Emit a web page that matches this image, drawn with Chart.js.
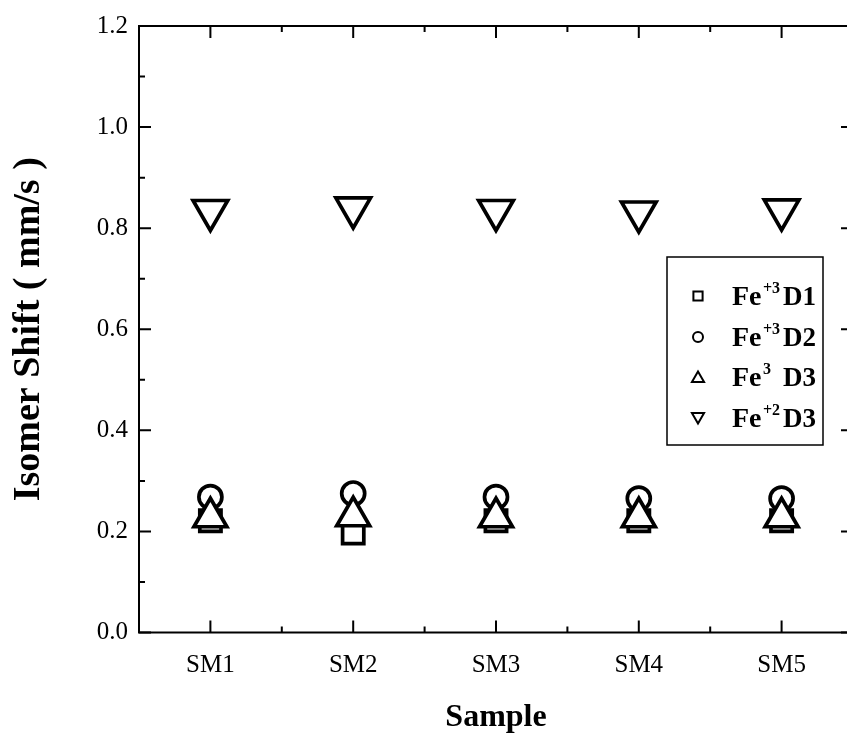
<!DOCTYPE html>
<html>
<head>
<meta charset="utf-8">
<script src="https://cdn.jsdelivr.net/npm/chart.js@4.4.1/dist/chart.umd.min.js"></script>
<style>
html,body{margin:0;padding:0;overflow:hidden;background:#fff;}
#wrap{width:860px;height:738px;overflow:hidden;}
#c{width:860px;height:738px;display:block;}
</style>
</head>
<body>
<div id="wrap"><canvas id="c" width="860" height="738"></canvas></div>
<script>
// ---- data ----
const categories = ['SM1', 'SM2', 'SM3', 'SM4', 'SM5'];
const fe3D1 = [0.221, 0.197, 0.221, 0.221, 0.221];
const fe3D2 = [0.268, 0.275, 0.268, 0.265, 0.265];
const fe3D3 = [0.228, 0.230, 0.228, 0.228, 0.228];
const fe2D3 = [0.835, 0.840, 0.835, 0.832, 0.836];
const yTickValues = [0, 0.2, 0.4, 0.6, 0.8, 1.0, 1.2];
const legendBase = ['Fe', 'Fe', 'Fe', 'Fe'];
const legendSup = ['+3', '+3', '3', '+2'];
const legendSuffix = ['D1', 'D2', 'D3', 'D3'];

const SERIF = '"Liberation Serif", "Times New Roman", serif';

function ds(data, style, radius, rotation, order) {
  return {
    data: data, showLine: false, pointStyle: style, pointRadius: radius,
    pointHoverRadius: radius, pointRotation: rotation || 0,
    pointBorderWidth: 3.7, pointBorderColor: '#000', pointBackgroundColor: '#fff',
    borderColor: '#000', backgroundColor: '#fff', order: order, clip: false
  };
}

const frame = {
  id: 'frame',
  beforeDatasetsDraw(chart) {
    const ctx = chart.ctx, a = chart.chartArea;
    const xs = chart.scales.x, ys = chart.scales.y;
    ctx.save();
    ctx.strokeStyle = '#000';
    ctx.lineWidth = 2;
    ctx.beginPath();
    ctx.rect(a.left, a.top, a.right - a.left, a.bottom - a.top);
    ctx.stroke();
    ctx.beginPath();
    for (let i = 0; i < yTickValues.length; i++) {
      const y = ys.getPixelForValue(yTickValues[i]);
      ctx.moveTo(a.left, y); ctx.lineTo(a.left + 12, y);
      ctx.moveTo(a.right, y); ctx.lineTo(a.right - 12, y);
      if (i < yTickValues.length - 1) {
        const ym = ys.getPixelForValue((yTickValues[i] + yTickValues[i + 1]) / 2);
        ctx.moveTo(a.left, ym); ctx.lineTo(a.left + 6, ym);
        ctx.moveTo(a.right, ym); ctx.lineTo(a.right - 6, ym);
      }
    }
    for (let i = 0; i < categories.length; i++) {
      const x = xs.getPixelForValue(i);
      ctx.moveTo(x, a.bottom); ctx.lineTo(x, a.bottom - 12);
      ctx.moveTo(x, a.top); ctx.lineTo(x, a.top + 12);
      if (i < categories.length - 1) {
        const xm = (x + xs.getPixelForValue(i + 1)) / 2;
        ctx.moveTo(xm, a.bottom); ctx.lineTo(xm, a.bottom - 6);
        ctx.moveTo(xm, a.top); ctx.lineTo(xm, a.top + 6);
      }
    }
    ctx.stroke();
    ctx.restore();
  }
};

const legendPlugin = {
  id: 'customLegend',
  afterDraw(chart) {
    const ctx = chart.ctx;
    ctx.save();
    ctx.fillStyle = '#fff';
    ctx.fillRect(667, 257, 156, 188);
    ctx.strokeStyle = '#000';
    ctx.lineWidth = 1.5;
    ctx.strokeRect(667, 257, 156, 188);
    const rowsY = [296, 337, 377, 418];
    chart.data.datasets.forEach((d, i) => {
      const y = rowsY[i];
      ctx.fillStyle = '#fff';
      ctx.strokeStyle = '#000';
      ctx.lineWidth = 2;
      const r = d.pointStyle === 'triangle' ? 7 : (d.pointStyle === 'rect' ? 6.5 : 5);
      Chart.helpers.drawPoint(ctx, {pointStyle: d.pointStyle, rotation: d.pointRotation, radius: r, borderWidth: 2}, 698, y + (d.pointStyle === 'triangle' ? (d.pointRotation ? -1.5 : 1.5) : 0));
      ctx.fillStyle = '#000';
      ctx.textBaseline = 'alphabetic';
      ctx.textAlign = 'left';
      ctx.font = 'bold 28px ' + SERIF;
      ctx.fillText(legendBase[i], 732, y + 9);
      ctx.font = 'bold 16px ' + SERIF;
      ctx.fillText(legendSup[i], 763, y - 3);
      ctx.font = 'bold 27px ' + SERIF;
      ctx.fillText(legendSuffix[i], 783, y + 9);
    });
    ctx.restore();
  }
};

new Chart(document.getElementById('c'), {
  type: 'line',
  data: {
    labels: categories,
    datasets: [
      ds(fe3D1, 'rect', 15, 0, 3),
      ds(fe3D2, 'circle', 11.5, 0, 2),
      ds(fe3D3, 'triangle', 19, 0, 1),
      ds(fe2D3, 'triangle', 20, 180, 0)
    ]
  },
  options: {
    responsive: false,
    devicePixelRatio: 1,
    animation: false,
    events: [],
    layout: {autoPadding: false, padding: {left: 0, top: 26, right: 7, bottom: 0}},
    plugins: {legend: {display: false}, tooltip: {enabled: false}},
    scales: {
      x: {
        type: 'category', offset: true,
        grid: {display: false, drawTicks: false},
        border: {display: false},
        ticks: {color: '#000', font: {family: SERIF, size: 25}, padding: 18, maxRotation: 0},
        title: {display: true, text: 'Sample', color: '#000', font: {family: SERIF, size: 32, weight: 'bold'}, padding: {top: 0, bottom: 1}},
        afterFit(s) { s.height = 105.5; s.paddingLeft = 0; s.paddingRight = 0; }
      },
      y: {
        min: 0, max: 1.2,
        grid: {display: false, drawTicks: false},
        border: {display: false},
        ticks: {stepSize: 0.2, color: '#000', font: {family: SERIF, size: 25}, padding: 11,
          callback: v => Number(v).toFixed(1)},
        title: {display: true, text: 'Isomer Shift ( mm/s )', color: '#000', font: {family: SERIF, size: 38, weight: 'bold'}, padding: {top: 6, bottom: 0}},
        afterFit(s) { s.width = 139; s.paddingTop = 0; s.paddingBottom = 0; }
      }
    }
  },
  plugins: [frame, legendPlugin]
});
</script>
</body>
</html>
